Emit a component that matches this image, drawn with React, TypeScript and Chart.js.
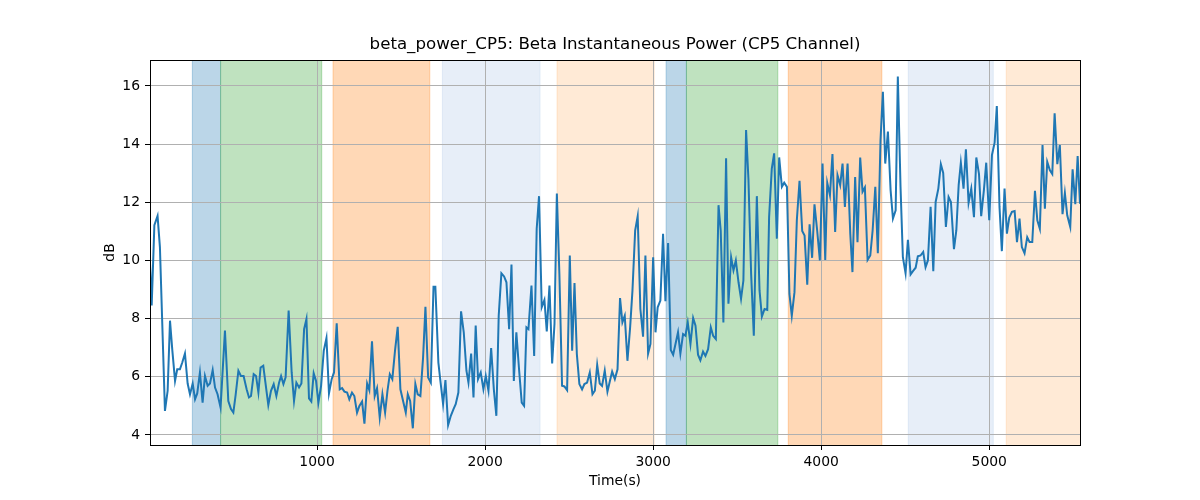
import React, { useEffect, useRef } from "react";
import Chart from "chart.js/auto";
import type { Chart as ChartJS, Plugin } from "chart.js";

// sample times (s) and beta power (dB)
const TIMES = [
  6, 16, 32, 51, 65, 95, 111, 125, 139, 155, 168, 184, 198, 214, 230, 244, 260, 274, 287, 303,
  319, 333, 349, 363, 379, 393, 408, 426, 452, 472, 488, 502, 516, 532, 547, 563, 581, 595, 607, 623,
  637, 651, 664, 680, 710, 726, 742, 758, 774, 786, 800, 813, 831, 849, 863, 877, 893, 907, 923, 937,
  952, 966, 980, 994, 1008, 1024, 1040, 1056, 1071, 1087, 1101, 1117, 1135, 1149, 1163, 1179, 1192, 1208, 1222, 1238,
  1252, 1268, 1282, 1298, 1311, 1327, 1343, 1357, 1373, 1389, 1405, 1419, 1433, 1448, 1464, 1480, 1496, 1512, 1528, 1540,
  1554, 1570, 1585, 1599, 1615, 1631, 1645, 1661, 1677, 1693, 1704, 1722, 1734, 1750, 1764, 1780, 1796, 1812, 1825, 1841,
  1857, 1873, 1889, 1901, 1917, 1931, 1944, 1958, 1974, 1990, 2004, 2020, 2036, 2052, 2067, 2081, 2097, 2113, 2127, 2143,
  2157, 2171, 2186, 2202, 2218, 2232, 2246, 2258, 2276, 2292, 2307, 2321, 2337, 2353, 2367, 2383, 2399, 2413, 2427, 2442,
  2458, 2472, 2488, 2504, 2518, 2532, 2546, 2561, 2577, 2591, 2607, 2623, 2639, 2653, 2667, 2682, 2696, 2712, 2728, 2742,
  2756, 2772, 2788, 2803, 2817, 2831, 2847, 2863, 2877, 2893, 2908, 2924, 2940, 2954, 2970, 2984, 3000, 3014, 3027, 3043,
  3059, 3073, 3089, 3105, 3119, 3133, 3148, 3162, 3178, 3192, 3206, 3222, 3238, 3252, 3267, 3281, 3297, 3311, 3327, 3343,
  3357, 3373, 3389, 3402, 3418, 3434, 3448, 3464, 3478, 3492, 3508, 3523, 3537, 3553, 3567, 3583, 3599, 3617, 3633, 3647,
  3663, 3679, 3690, 3706, 3720, 3736, 3750, 3766, 3780, 3796, 3811, 3825, 3841, 3855, 3871, 3887, 3901, 3917, 3931, 3946,
  3960, 3976, 3992, 4008, 4024, 4036, 4052, 4067, 4083, 4097, 4113, 4127, 4141, 4157, 4173, 4186, 4202, 4216, 4232, 4246,
  4260, 4276, 4292, 4306, 4322, 4337, 4353, 4367, 4381, 4397, 4413, 4427, 4443, 4456, 4472, 4486, 4502, 4516, 4532, 4546,
  4562, 4575, 4591, 4607, 4621, 4635, 4651, 4667, 4681, 4697, 4712, 4726, 4742, 4758, 4772, 4790, 4804, 4818, 4831, 4847,
  4861, 4877, 4893, 4909, 4923, 4939, 4952, 4968, 4982, 5000, 5016, 5032, 5045, 5061, 5075, 5091, 5105, 5119, 5135, 5151,
  5165, 5180, 5194, 5210, 5226, 5240, 5256, 5272, 5286, 5301, 5317, 5331, 5345, 5361, 5375, 5389, 5405, 5420, 5436, 5450,
  5464, 5482, 5496, 5512, 5526, 5540,
];

const DB = [
  9.9, 8.45, 11.21, 11.53, 10.46, 4.83, 5.52, 7.93, 6.9, 5.86, 6.26, 6.26, 6.49, 6.8, 5.77, 5.4, 5.77, 5.23, 5.43, 6.15,
  5.11, 6.03, 5.69, 5.77, 6.23, 5.63, 5.4, 4.94, 7.59, 5.17, 4.89, 4.77, 5.4, 6.21, 6.03, 6.03, 5.57, 5.29, 5.34, 6.09,
  6.03, 5.46, 6.32, 6.38, 5.03, 5.52, 5.75, 5.34, 5.8, 6.03, 5.75, 5.98, 8.28, 6.15, 5.17, 5.8, 5.63, 5.77, 7.64, 7.99,
  5.26, 5.15, 6.12, 5.86, 5.11, 5.69, 6.9, 7.33, 5.43, 5.92, 6.15, 7.84, 5.57, 5.61, 5.49, 5.46, 5.23, 5.46, 5.34, 4.77,
  5.0, 5.15, 4.39, 5.77, 5.54, 7.22, 5.34, 5.61, 4.6, 5.4, 4.77, 5.52, 6.09, 5.92, 6.9, 7.72, 5.57, 5.17, 4.77, 5.4,
  5.17, 4.23, 5.75, 5.4, 5.34, 6.67, 8.41, 5.98, 5.8, 9.1, 9.1, 6.49, 5.86, 5.06, 5.89, 4.34, 4.66, 4.89, 5.06, 5.46,
  8.25, 7.53, 6.21, 5.8, 6.8, 5.29, 7.76, 5.92, 6.15, 5.57, 6.03, 5.52, 6.99, 5.57, 4.66, 8.1, 9.56, 9.45, 9.25, 7.64,
  9.86, 5.86, 7.53, 6.26, 5.11, 5.0, 7.7, 7.64, 9.14, 6.72, 11.09, 12.21, 8.39, 8.64, 7.56, 9.14, 6.46, 7.82, 12.3, 9.54,
  5.69, 5.67, 5.54, 10.17, 6.9, 9.22, 6.78, 5.75, 5.57, 5.75, 5.8, 6.15, 5.4, 5.52, 6.41, 5.77, 5.69, 6.21, 5.49, 5.84,
  6.18, 5.92, 6.26, 8.71, 7.87, 8.1, 6.55, 7.7, 8.97, 11.03, 11.52, 8.33, 7.38, 10.17, 6.8, 7.13, 10.11, 7.53, 8.39, 8.62,
  10.92, 8.6, 10.6, 6.92, 6.76, 7.13, 7.53, 6.8, 7.47, 7.41, 7.87, 7.13, 8.02, 7.76, 6.76, 6.57, 6.87, 6.72, 6.95, 7.7,
  7.41, 7.3, 11.9, 11.03, 7.87, 13.51, 8.51, 10.11, 9.66, 10.0, 9.25, 8.68, 9.31, 14.48, 12.8, 9.54, 7.41, 12.21, 8.97, 8.07,
  8.33, 8.3, 11.49, 13.16, 13.68, 10.75, 13.54, 12.53, 12.67, 12.53, 8.85, 8.1, 8.91, 11.38, 12.74, 11.01, 10.86, 9.17, 11.24, 10.09,
  11.93, 11.03, 10.0, 13.33, 10.02, 12.67, 12.24, 13.66, 10.98, 12.93, 12.59, 13.33, 11.84, 13.33, 10.92, 9.6, 12.87, 10.63, 13.54, 12.36,
  12.51, 10.02, 10.17, 11.03, 12.53, 10.25, 14.14, 15.8, 13.33, 14.43, 12.41, 11.44, 11.72, 16.32, 12.53, 10.11, 9.56, 10.71, 9.52, 9.63,
  9.75, 10.14, 10.17, 10.29, 9.77, 10.0, 11.84, 9.63, 12.01, 12.47, 13.31, 13.01, 11.15, 12.18, 12.01, 10.39, 11.03, 12.59, 13.36, 12.47,
  13.82, 11.98, 12.47, 11.49, 13.54, 12.97, 11.52, 12.41, 13.36, 11.38, 13.62, 14.05, 15.31, 11.84, 10.32, 12.47, 10.92, 11.47, 11.67, 11.7,
  10.63, 11.44, 10.46, 10.25, 10.8, 10.63, 10.63, 12.39, 11.38, 11.09, 13.97, 11.78, 13.39, 13.1, 12.97, 15.06, 13.31, 13.97, 11.59, 12.32,
  11.55, 11.15, 13.13, 11.93, 13.59, 11.95,
];

const X_TICKS = [1000, 2000, 3000, 4000, 5000];
const Y_TICKS = [4, 6, 8, 10, 12, 14, 16];

// shaded segments (start / end time) and which kind each one is
const BAND_STARTS = [258, 426, 1095, 1746, 2428, 3077, 3198, 3804, 4518, 5101];
const BAND_ENDS = [426, 1028, 1671, 2327, 3006, 3198, 3742, 4361, 5024, 5600];
const BAND_KINDS = ["blue", "green", "orange", "lightblue", "peach", "blue", "green", "orange", "lightblue", "peach"];

const BAND_COLORS: Record<string, string> = {
  blue: "rgba(31,119,180,0.3)",
  green: "rgba(44,160,44,0.3)",
  orange: "rgba(255,127,14,0.3)",
  lightblue: "rgba(174,199,232,0.3)",
  peach: "rgba(255,187,120,0.3)",
};

const FONT = "'DejaVu Sans', sans-serif";
const GRID = "#b0b0b0";
const LINE = "#1f77b4";

const bandsPlugin: Plugin<"line"> = {
  id: "bands",
  beforeDraw(c) {
    const { ctx, chartArea } = c;
    const xs: any = c.scales.x;
    if (!xs) return;
    ctx.save();
    ctx.beginPath();
    ctx.rect(chartArea.left, chartArea.top, chartArea.width, chartArea.height);
    ctx.clip();
    BAND_STARTS.forEach((start, i) => {
      const x0 = xs.getPixelForValue(start);
      const x1 = xs.getPixelForValue(BAND_ENDS[i]);
      const col = BAND_COLORS[BAND_KINDS[i]];
      ctx.fillStyle = col;
      ctx.fillRect(x0, chartArea.top, x1 - x0, chartArea.height);
      ctx.strokeStyle = col;
      ctx.lineWidth = 1;
      ctx.beginPath();
      ctx.moveTo(x0, chartArea.top);
      ctx.lineTo(x0, chartArea.bottom);
      ctx.moveTo(x1, chartArea.top);
      ctx.lineTo(x1, chartArea.bottom);
      ctx.stroke();
    });
    ctx.restore();
  },
};

// black frame around the axes, drawn over the line like matplotlib spines
const spinesPlugin: Plugin<"line"> = {
  id: "spines",
  afterDatasetsDraw(c) {
    const { ctx, chartArea } = c;
    ctx.save();
    ctx.strokeStyle = "#000";
    ctx.lineWidth = 1;
    ctx.strokeRect(
      Math.round(chartArea.left) + 0.5,
      Math.round(chartArea.top) + 0.5,
      Math.round(chartArea.width),
      Math.round(chartArea.height)
    );
    ctx.restore();
  },
};

export default function App() {
  const canvasRef = useRef<HTMLCanvasElement | null>(null);
  const chartRef = useRef<ChartJS | null>(null);

  useEffect(() => {
    const ctx = canvasRef.current?.getContext("2d");
    if (!ctx) return;
    if (chartRef.current) {
      chartRef.current.destroy();
      chartRef.current = null;
    }

    const tickFont = { family: FONT, size: 13.9 };

    const chart = new Chart(ctx, {
      type: "line",
      data: {
        datasets: [
          {
            label: "beta_power_CP5",
            data: TIMES.map((t, i) => ({ x: t, y: DB[i] })),
            borderColor: LINE,
            backgroundColor: LINE,
            borderWidth: 2,
            pointRadius: 0,
            tension: 0,
            fill: false,
          },
        ],
      },
      options: {
        animation: false,
        responsive: false,
        events: [],
        layout: { padding: { left: 0, right: 120, top: 0, bottom: 0 } },
        scales: {
          x: {
            type: "linear",
            min: 6,
            max: 5540,
            afterBuildTicks: (s: any) => {
              s.ticks = X_TICKS.map((v) => ({ value: v }));
            },
            afterFit: (s: any) => {
              s.height = 55;
            },
            ticks: {
              color: "#000",
              font: tickFont,
              padding: 4,
              maxRotation: 0,
              autoSkip: false,
              callback: (v: any) => String(v),
            },
            grid: { color: GRID, lineWidth: 1, tickColor: "#000", tickLength: 5 },
            border: { display: false },
            title: {
              display: true,
              text: "Time(s)",
              color: "#000",
              font: tickFont,
              padding: { top: 0, bottom: 10.7 },
            },
          },
          y: {
            type: "linear",
            min: 3.656,
            max: 16.89,
            afterBuildTicks: (s: any) => {
              s.ticks = Y_TICKS.map((v) => ({ value: v }));
            },
            afterFit: (s: any) => {
              s.width = 150;
            },
            ticks: {
              color: "#000",
              font: tickFont,
              padding: 5,
              callback: (v: any) => String(v),
            },
            grid: { color: GRID, lineWidth: 1, tickColor: "#000", tickLength: 5 },
            border: { display: false },
            title: {
              display: true,
              text: "dB",
              color: "#000",
              font: tickFont,
              padding: { top: 101.7, bottom: 0 },
            },
          },
        },
        plugins: {
          legend: { display: false },
          tooltip: { enabled: false },
          title: {
            display: true,
            fullSize: false,
            text: "beta_power_CP5: Beta Instantaneous Power (CP5 Channel)",
            color: "#000",
            font: { family: FONT, size: 16.67, weight: "normal" },
            padding: { top: 35, bottom: 5 },
          },
        },
      },
      plugins: [bandsPlugin, spinesPlugin],
    });

    chartRef.current = chart;
    return () => {
      chart.destroy();
      chartRef.current = null;
    };
  }, []);

  return (
    <div style={{ position: "fixed", left: 0, top: 0, width: 1200, height: 500, background: "#fff" }}>
      <canvas ref={canvasRef} width={1200} height={500} style={{ display: "block", width: 1200, height: 500 }} />
    </div>
  );
}
